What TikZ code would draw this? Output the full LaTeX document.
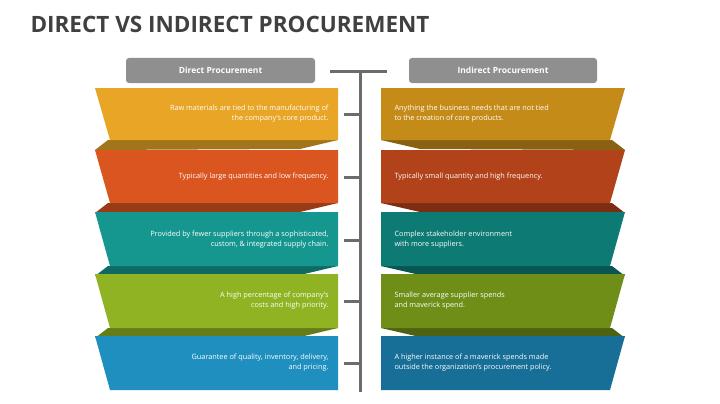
\documentclass[tikz,border=0pt]{standalone}
\usepackage{fontspec}
\setmainfont{Open Sans}
\begin{document}
\begin{tikzpicture}[x=1pt,y=-1pt,
  hdr/.style={fill=gray!75!black!70, rounded corners=3pt, text=white, font=\bfseries\fontsize{8.5}{9}\selectfont, minimum height=25pt, inner sep=0pt},
  ltxt/.style={text=white, font=\fontsize{7.3}{10}\selectfont, align=right, anchor=east},
  rtxt/.style={text=white, font=\fontsize{7.3}{10}\selectfont, align=left, anchor=west},
  spine/.style={draw=gray!85!black, line width=3pt}]
\useasboundingbox (0,0) rectangle (720,404);
\fill[white] (0,0) rectangle (720,404);
\node[anchor=west, font=\bfseries\fontsize{22.5}{26}\selectfont, text=black!75] (title) at (27,24) {DIRECT VS INDIRECT PROCUREMENT};
\node[hdr, minimum width=189pt] (hl) at (220.5,70.5) {Direct Procurement};
\node[hdr, minimum width=188pt] (hr) at (503,70.5) {Indirect Procurement};
\coordinate (st) at (360,72);
\coordinate (sb) at (360,392);
\draw[spine] (st) -- (sb);
\draw[spine] (330,72) -- (387,72);
\foreach \tt/\bb/\mm/\colL/\colR/\txL/\txR [count=\i] in {
{88}/{140}/{114}/{E8A526}/{C48B18}/{Raw materials are tied to the manufacturing of\\the company's core product.}/{Anything the business needs that are not tied\\to the creation of core products.},
{150}/{203}/{177}/{DA5520}/{B2421A}/{Typically large quantities and low frequency.}/{Typically small quantity and high frequency.},
{212}/{266}/{240}/{15978F}/{0D7A74}/{Provided by fewer suppliers through a sophisticated,\\custom, \& integrated supply chain.}/{Complex stakeholder environment\\with more suppliers.},
{274}/{328}/{301}/{8FB322}/{6E8E18}/{A high percentage of company's\\costs and high priority.}/{Smaller average supplier spends\\and maverick spend.},
{336}/{390}/{363}/{1E8FBE}/{176E96}/{Guarantee of quality, inventory, delivery,\\and pricing.}/{A higher instance of a maverick spends made\\outside the organization's procurement policy.}} {
  \definecolor{cL}{HTML}{\colL}\definecolor{cR}{HTML}{\colR}
  \ifnum\i<5
  \fill[cL!70!black] (108,\bb) -- (338,\bb) -- (300,\bb+9) -- (95,\bb+10) -- cycle;
  \fill[cR!70!black] (381,\bb) -- (612,\bb) -- (625,\bb+10) -- (420,\bb+9) -- cycle;
  \fi
  \fill[cL] (95,\tt) -- (338,\tt) -- (338,\bb) -- (110,\bb) -- cycle;
  \fill[cR] (381,\tt) -- (625,\tt) -- (610,\bb) -- (381,\bb) -- cycle;
  \node[ltxt] (l\i) at (332,\mm) {\txL};
  \node[rtxt] (r\i) at (391,\mm) {\txR};
  \draw[spine] (344,\mm) -- (360,\mm);
}
\end{tikzpicture}
\end{document}
